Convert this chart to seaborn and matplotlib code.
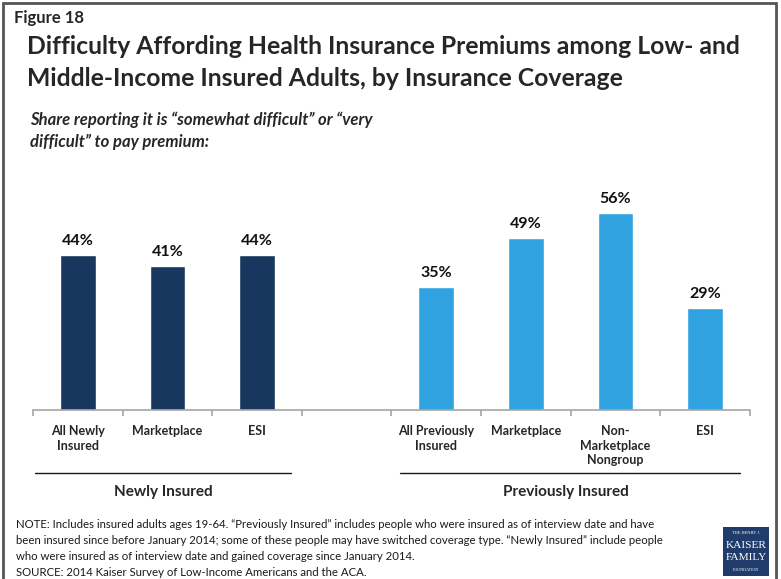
import matplotlib
matplotlib.use("Agg")
import matplotlib.pyplot as plt
from matplotlib.lines import Line2D
from matplotlib.patches import Rectangle
import seaborn as sns
import pandas as pd

# ---- data ----
slots = ["new_all", "new_mkt", "new_esi", "gap", "prev_all", "prev_mkt", "prev_nong", "prev_esi"]
tick_labels = ["All Newly\nInsured", "Marketplace", "ESI", "",
               "All Previously\nInsured", "Marketplace", "Non-\nMarketplace\nNongroup", "ESI"]
newly_keys = ["new_all", "new_mkt", "new_esi"]
newly_values = [44, 41, 44]
prev_keys = ["prev_all", "prev_mkt", "prev_nong", "prev_esi"]
prev_values = [35, 49, 56, 29]
groups = ["Newly Insured", "Previously Insured"]
colors = {"Newly Insured": "#17375e", "Previously Insured": "#31a2e0"}

df = pd.DataFrame({
    "slot": newly_keys + prev_keys,
    "value": newly_values + prev_values,
    "group": [groups[0]] * len(newly_keys) + [groups[1]] * len(prev_keys),
})

W, H = 781, 579
sns.set_theme(style="white")
plt.rcParams["font.family"] = ["Lato", "DejaVu Sans"]

fig = plt.figure(figsize=(W / 100, H / 100), dpi=100)


def fx(x):
    return x / W


def fy(y):
    return 1 - y / H


# plot area in pixel terms: baseline at y=410, x from 33 to 750
ax = fig.add_axes([fx(33), fy(410), fx(750) - fx(33), (410 - 164) / H])
sns.barplot(data=df, x="slot", y="value", hue="group", order=slots,
            palette=colors, dodge=False, width=0.4, legend=False,
            saturation=1, ax=ax)
ax.set_ylim(0, 70)
ax.set_xlim(-0.5, len(slots) - 0.5)
ax.set_xlabel("")
ax.set_ylabel("")
ax.set_yticks([])
for side in ["top", "right", "left"]:
    ax.spines[side].set_visible(False)
ax.spines["bottom"].set_color("#a6a6a6")
ax.spines["bottom"].set_linewidth(1.2)

# slot boundary ticks (major) and category labels (minor)
ax.set_xticks([i - 0.5 for i in range(len(slots) + 1)])
ax.set_xticklabels([])
ax.tick_params(axis="x", which="major", direction="out", length=4,
               color="#a6a6a6", width=1.2, bottom=True)
ax.set_xticks(range(len(slots)), minor=True)
ax.set_xticklabels(tick_labels, minor=True, fontsize=9, fontweight="bold",
                   linespacing=1.25, va="top")
ax.tick_params(axis="x", which="minor", length=0, pad=11)

# value labels
for cont in ax.containers:
    ax.bar_label(cont, labels=[f"{v:.0f}%" for v in cont.datavalues],
                 padding=5, fontsize=11.5, fontweight="bold", color="#111111")

# heading texts
fig.text(fx(14), fy(18), "Figure 18", fontsize=12, fontweight="bold",
         va="center", ha="left")
fig.text(fx(27), fy(46), "Difficulty Affording Health Insurance Premiums among Low- and",
         fontsize=17.8, fontweight="bold", va="center", ha="left")
fig.text(fx(27), fy(79), "Middle-Income Insured Adults, by Insurance Coverage",
         fontsize=17.8, fontweight="bold", va="center", ha="left")
fig.text(fx(30), fy(120), "Share reporting it is \u201csomewhat difficult\u201d or \u201cvery",
         fontsize=12, fontweight="bold", style="italic", va="center", ha="left")
fig.text(fx(30), fy(142), "difficult\u201d to pay premium:",
         fontsize=12, fontweight="bold", style="italic", va="center", ha="left")

# group brackets under the axis
fig.add_artist(Line2D([fx(35), fx(291)], [fy(473), fy(473)], color="#1a1a1a", lw=1))
fig.add_artist(Line2D([fx(400), fx(740)], [fy(473), fy(473)], color="#1a1a1a", lw=1))
fig.text(fx(163), fy(492), groups[0], fontsize=11, fontweight="bold",
         ha="center", va="center")
fig.text(fx(566), fy(492), groups[1], fontsize=11, fontweight="bold",
         ha="center", va="center")

# notes
notes = [
    "NOTE: Includes insured adults ages 19-64. \u201cPreviously Insured\u201d includes people who were insured as of interview date and have",
    "been insured since before January 2014; some of these people may have switched coverage type. \u201cNewly Insured\u201d include people",
    "who were insured as of interview date and gained coverage since January 2014.",
    "SOURCE: 2014 Kaiser Survey of Low-Income Americans and the ACA.",
]
for i, line in enumerate(notes):
    fig.text(fx(16), fy(525 + 16 * i), line, fontsize=8.2, ha="left",
             va="center", color="#1a1a1a")

# foundation logo block
fig.add_artist(Rectangle((fx(723), fy(576)), fx(769) - fx(723), (576 - 527) / H,
                         transform=fig.transFigure, facecolor="#1f3c6b",
                         edgecolor="none"))
logo_lines = [("THE HENRY J.", 3.2, 533), ("KAISER", 8.2, 545),
              ("FAMILY", 8.2, 558), ("FOUNDATION", 3.0, 570)]
for txt, size, y in logo_lines:
    fig.text(fx(746), fy(y), txt, fontsize=size, color="white",
             family=["Liberation Serif", "DejaVu Serif"], ha="center", va="center")

# outer frame
fig.add_artist(Rectangle((fx(3), -0.05), fx(776) - fx(3), fy(3) + 0.05,
                         transform=fig.transFigure, facecolor="none",
                         edgecolor="#555555", lw=2))

fig.savefig("out.png", dpi=100)
